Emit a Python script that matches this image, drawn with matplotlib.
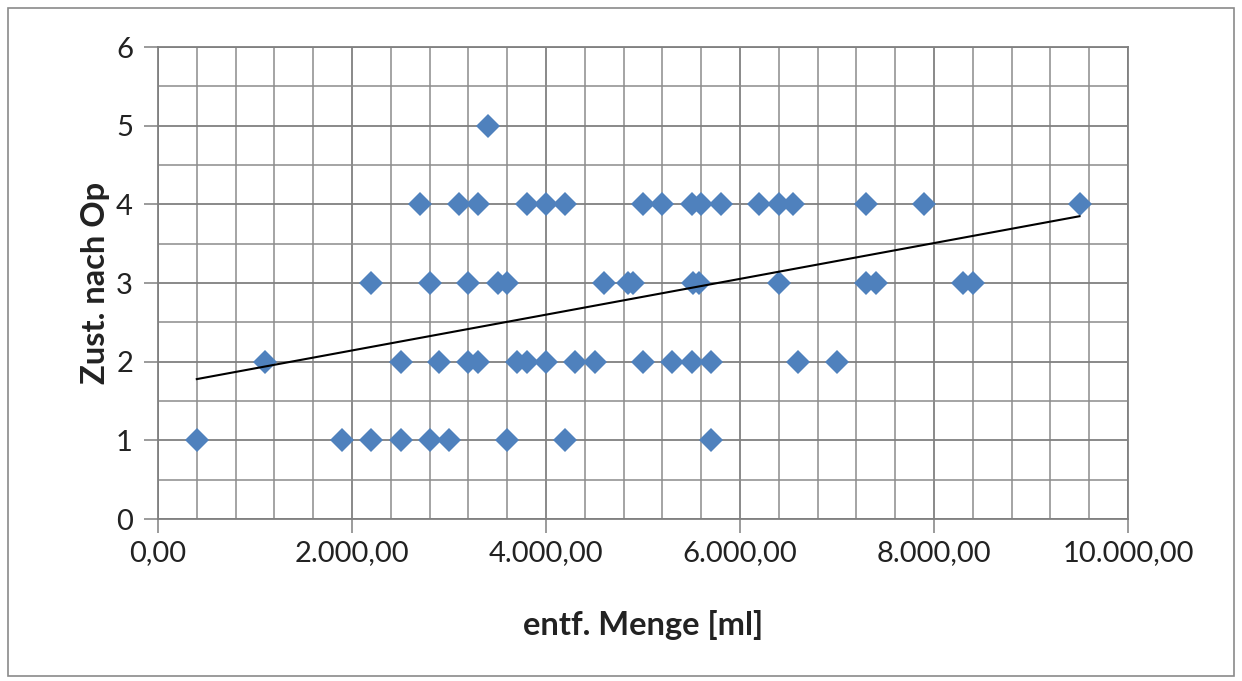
import numpy as np
import matplotlib
matplotlib.use("Agg")
import matplotlib.pyplot as plt
from matplotlib.ticker import MultipleLocator, FuncFormatter
from matplotlib.patches import Rectangle

# removed amount [ml] grouped by post-op condition score
menge_1 = [400, 1900, 2200, 2500, 2800, 3000, 3600, 4200, 5700]
menge_2 = [1100, 2500, 2900, 3200, 3300, 3700, 3800, 4000, 4300, 4500,
           5000, 5300, 5500, 5700, 6600, 7000]
menge_3 = [2200, 2800, 3200, 3500, 3600, 4600, 4850, 4900, 5520, 5580,
           6400, 7300, 7400, 8300, 8400]
menge_4 = [2700, 3100, 3300, 3800, 4000, 4200, 5000, 5200, 5500, 5600,
           5800, 6200, 6400, 6550, 7300, 7900, 9500]
menge_5 = [3400]

x = np.array(menge_1 + menge_2 + menge_3 + menge_4 + menge_5, dtype=float)
y = np.array([1] * len(menge_1) + [2] * len(menge_2) + [3] * len(menge_3)
             + [4] * len(menge_4) + [5] * len(menge_5), dtype=float)

plt.rcParams["font.family"] = ["Lato", "DejaVu Sans"]

fig = plt.figure(figsize=(12.42, 6.81), dpi=100)
ax = fig.add_axes([158 / 1242, 1 - 519 / 681, 970 / 1242, 472 / 681])

ax.xaxis.set_major_locator(MultipleLocator(2000))
ax.xaxis.set_minor_locator(MultipleLocator(400))
ax.yaxis.set_major_locator(MultipleLocator(1))
ax.yaxis.set_minor_locator(MultipleLocator(0.5))
ax.grid(True, which="major", color="#808080", lw=1.3)
ax.grid(True, which="minor", color="#8c8c8c", lw=1.1)
ax.set_axisbelow(True)

ax.plot(x, y, ls="none", marker="D", ms=12, color="#4f81bd",
        markeredgewidth=0, zorder=3)

# linear trend line over the data range
k, d = np.polyfit(x, y, 1)
xt = np.array([x.min(), x.max()])
ax.plot(xt, k * xt + d, color="black", lw=1.5, zorder=4)

ax.set_xlim(0, 10000)
ax.set_ylim(0, 6)


def de_fmt(v, pos):
    s = f"{v:,.2f}"
    return s.replace(",", "#").replace(".", ",").replace("#", ".")


ax.xaxis.set_major_formatter(FuncFormatter(de_fmt))
ax.tick_params(which="major", direction="out", length=10, width=1.1,
               color="#808080", labelsize=21, labelcolor="#222222")
ax.tick_params(axis="y", pad=8)
ax.tick_params(axis="x", pad=5)
ax.tick_params(which="minor", length=0)
for s in ax.spines.values():
    s.set_color("#808080")
    s.set_linewidth(1.3)

ax.set_xlabel("entf. Menge [ml]", fontsize=23.5, fontweight="bold",
              color="#222222", va="center")
ax.set_ylabel("Zust. nach Op", fontsize=23.5, fontweight="bold",
              color="#222222", va="center")
ax.xaxis.set_label_coords(0.5, (519 - 625) / 472)
ax.yaxis.set_label_coords((95 - 158) / 970, 0.5)

fig.patches.append(Rectangle((8 / 1242, 5 / 681), 1226 / 1242, 668 / 681,
                             transform=fig.transFigure, fill=False,
                             edgecolor="#8a8a8a", lw=1.2))

fig.savefig("out.png", dpi=100)
